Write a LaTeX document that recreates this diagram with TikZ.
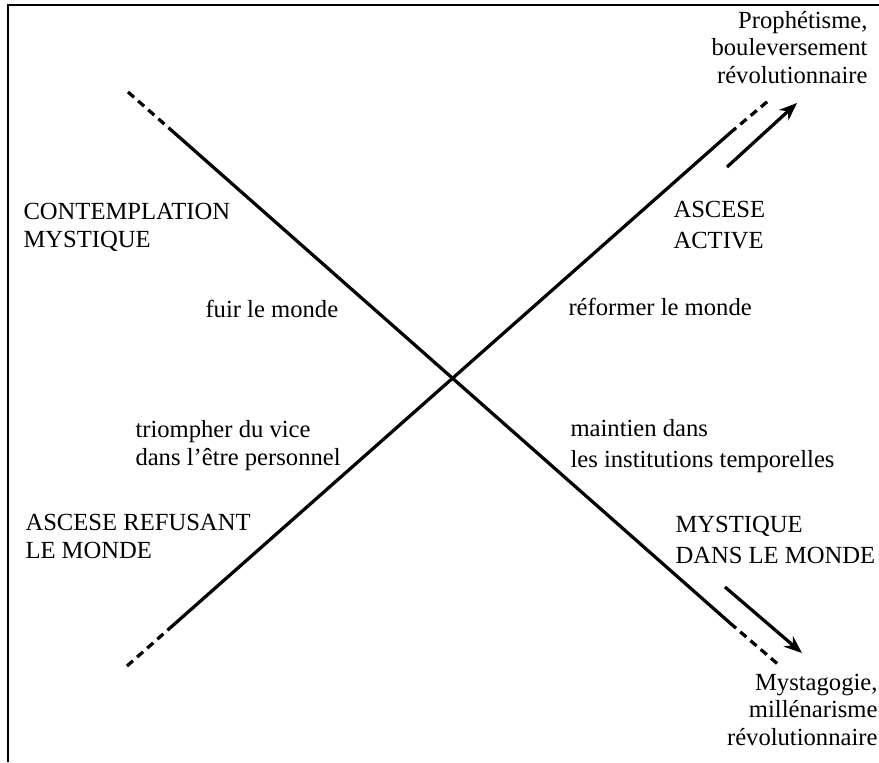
\documentclass[tikz,border=0pt]{standalone}
\usepackage{fontspec}
\setmainfont{Liberation Serif}
\usetikzlibrary{arrows.meta}
\tikzset{
    txt/.style={inner sep=0pt, font=\fontsize{9.85}{11}\selectfont},
    axe/.style={line width=1.3pt},
    prolong/.style={line width=1.3pt, dash pattern=on 3.2pt off 2.2pt},
    tendance/.style={line width=1.3pt, -{Stealth[length=7.2pt,width=5.6pt]}}
}
\begin{document}
\begin{tikzpicture}[x=0.4pt,y=-0.4pt]
    \useasboundingbox (0,0) rectangle (879,762);
    % Frame
    \draw[line width=1pt] (8,762) -- (8,5) -- (879,5);

    % Axes
    \coordinate (hg) at (128,92);
    \coordinate (hgs) at (170,129);
    \coordinate (bds) at (730,623);
    \coordinate (bd) at (780,666);
    \coordinate (bg) at (127,666);
    \coordinate (bgs) at (170,628);
    \coordinate (hds) at (730,133);
    \coordinate (hd) at (768,101);
    \draw[prolong] (hg) -- (hgs);
    \draw[axe] (hgs) -- (bds);
    \draw[prolong] (bds) -- (bd);
    \draw[prolong] (bg) -- (bgs);
    \draw[axe] (bgs) -- (hds);
    \draw[prolong] (hds) -- (hd);

    % Tendencies
    \coordinate (p1) at (727,167);
    \coordinate (p2) at (797,103);
    \coordinate (m1) at (725,587);
    \coordinate (m2) at (802,653);
    \draw[tendance] (p1) -- (p2);
    \draw[tendance] (m1) -- (m2);

    % Labels (base = last line)
    \node[txt, anchor=base west, align=left] (contemplation) at (23,247) {CONTEMPLATION\\MYSTIQUE};
    \node[txt, anchor=base west, align=left] (active) at (673,248) {ASCESE\\[1.2pt]ACTIVE};
    \node[txt, anchor=base west, align=left] (refus) at (25,558) {ASCESE REFUSANT\\LE MONDE};
    \node[txt, anchor=base west, align=left] (mystique) at (675,563) {MYSTIQUE\\[1.2pt]DANS LE MONDE};
    \node[txt, anchor=base west] (fuir) at (205,317) {fuir le monde};
    \node[txt, anchor=base west] (reformer) at (568,315) {réformer le monde};
    \node[txt, anchor=base west, align=left] (triompher) at (135,465) {triompher du vice\\dans l'être personnel};
    \node[txt, anchor=base west, align=left] (maintien) at (570,467) {maintien dans\\[1.2pt]les institutions temporelles};
    \node[txt, anchor=base east, align=right] (prophetisme) at (868,83) {Prophétisme,\\bouleversement\\révolutionnaire};
    \node[txt, anchor=base east, align=right] (mystagogie) at (878,745) {Mystagogie,\\millénarisme\\révolutionnaire};
\end{tikzpicture}
\end{document}
